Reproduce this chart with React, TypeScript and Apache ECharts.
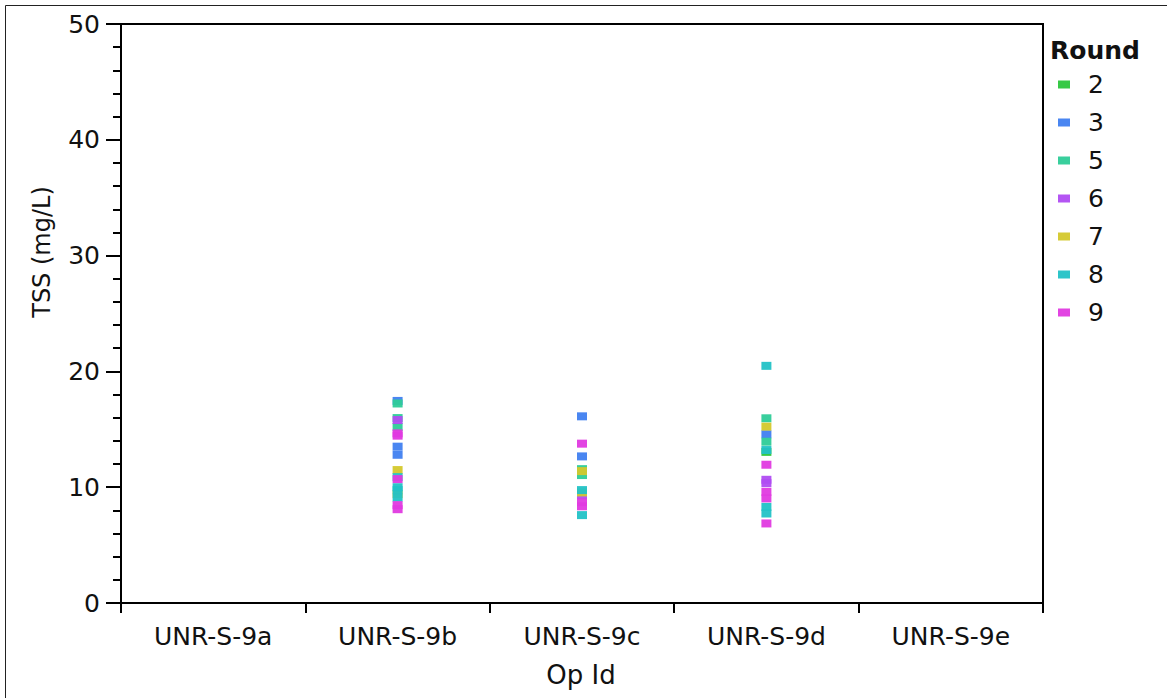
import React, { useEffect, useRef } from "react";
import * as echarts from "echarts";

const categories = ["UNR-S-9a", "UNR-S-9b", "UNR-S-9c", "UNR-S-9d", "UNR-S-9e"];
const yTicks = [0, 10, 20, 30, 40, 50];
const rounds = ["2", "3", "5", "6", "7", "8", "9"];
const roundColors = ["#2cc63c", "#4080f0", "#2ecc98", "#b04cf2", "#d4c82c", "#22c2c6", "#e03ae0"];

const round2: [string, number][] = [["UNR-S-9d", 13.05]];
const round3: [string, number][] = [
  ["UNR-S-9b", 17.45], ["UNR-S-9b", 13.5], ["UNR-S-9b", 12.8],
  ["UNR-S-9c", 16.12], ["UNR-S-9c", 12.66],
  ["UNR-S-9d", 14.57],
];
const round5: [string, number][] = [
  ["UNR-S-9b", 17.23], ["UNR-S-9b", 15.97], ["UNR-S-9b", 15.2],
  ["UNR-S-9c", 11.56], ["UNR-S-9c", 11.05],
  ["UNR-S-9d", 15.95], ["UNR-S-9d", 13.93],
];
const round6: [string, number][] = [
  ["UNR-S-9b", 15.8],
  ["UNR-S-9c", 9.3],
  ["UNR-S-9d", 10.64], ["UNR-S-9d", 10.35],
];
const round7: [string, number][] = [
  ["UNR-S-9b", 11.48], ["UNR-S-9b", 9.4],
  ["UNR-S-9c", 11.39], ["UNR-S-9c", 9.55],
  ["UNR-S-9d", 15.23],
];
const round8: [string, number][] = [
  ["UNR-S-9b", 10.87], ["UNR-S-9b", 10.0], ["UNR-S-9b", 9.75], ["UNR-S-9b", 9.1],
  ["UNR-S-9c", 9.75], ["UNR-S-9c", 7.59],
  ["UNR-S-9d", 20.48], ["UNR-S-9d", 13.21], ["UNR-S-9d", 8.3], ["UNR-S-9d", 7.73],
];
const round9: [string, number][] = [
  ["UNR-S-9b", 14.65], ["UNR-S-9b", 14.45], ["UNR-S-9b", 10.7], ["UNR-S-9b", 8.45], ["UNR-S-9b", 8.1],
  ["UNR-S-9c", 13.76], ["UNR-S-9c", 8.7], ["UNR-S-9c", 8.35],
  ["UNR-S-9d", 11.94], ["UNR-S-9d", 9.6], ["UNR-S-9d", 9.03], ["UNR-S-9d", 6.87],
];
const roundData = [round2, round3, round5, round6, round7, round8, round9];

const FONT = "DejaVu Sans";

export default function App() {
  const ref = useRef<HTMLDivElement>(null);
  useEffect(() => {
    if (!ref.current) return;
    const chart = echarts.init(ref.current, null, { renderer: "svg" });
    chart.setOption({
      animation: false,
      backgroundColor: "#ffffff",
      grid: {
        left: 121,
        top: 24,
        right: 124,
        bottom: 95,
        show: true,
        borderColor: "#000",
        borderWidth: 2,
        backgroundColor: "transparent",
      },
      xAxis: {
        type: "category",
        data: categories,
        boundaryGap: true,
        axisLine: { lineStyle: { color: "#000", width: 2 } },
        axisTick: { show: true, interval: 0, length: 10, lineStyle: { color: "#000", width: 2 } },
        axisLabel: { interval: 0, fontSize: 25, color: "#111", margin: 21, fontFamily: FONT },
        splitLine: { show: false },
      },
      yAxis: {
        type: "value",
        min: yTicks[0],
        max: yTicks[yTicks.length - 1],
        interval: 10,
        axisLine: { show: true, lineStyle: { color: "#000", width: 2 } },
        axisTick: { show: true, length: 15, lineStyle: { color: "#000", width: 2 } },
        minorTick: { show: true, splitNumber: 5, length: 8, lineStyle: { color: "#000", width: 2 } },
        axisLabel: { fontSize: 25, color: "#111", margin: 21, fontFamily: FONT },
        splitLine: { show: false },
      },
      legend: {
        orient: "vertical",
        left: 1058,
        top: 72,
        padding: 0,
        itemWidth: 12,
        itemHeight: 8,
        itemGap: 13,
        icon: "rect",
        data: rounds,
        textStyle: { fontSize: 25, lineHeight: 25, color: "#111", fontFamily: FONT, padding: [0, 0, 0, 13] },
      },
      graphic: [
        {
          type: "rect",
          shape: { x: 5.5, y: 5.5, width: 1300, height: 900 },
          style: { fill: "none", stroke: "#222", lineWidth: 1 },
          silent: true,
          z: 0,
        },
        {
          type: "text",
          x: 1050,
          y: 50,
          style: {
            text: "Round",
            fontSize: 25,
            fontWeight: "bold",
            fill: "#111",
            fontFamily: FONT,
            verticalAlign: "middle",
          },
        },
        {
          type: "text",
          x: 42,
          y: 252,
          rotation: Math.PI / 2,
          style: {
            text: "TSS (mg/L)",
            fontSize: 24,
            fill: "#111",
            fontFamily: FONT,
            align: "center",
            verticalAlign: "middle",
          },
        },
        {
          type: "text",
          x: 581,
          y: 675,
          style: {
            text: "Op Id",
            fontSize: 26,
            fill: "#111",
            fontFamily: FONT,
            align: "center",
            verticalAlign: "middle",
          },
        },
      ],
      series: rounds.map((r, i) => ({
        name: r,
        type: "scatter",
        data: roundData[i],
        symbol: "rect",
        symbolSize: [10, 8],
        itemStyle: { color: roundColors[i], opacity: 0.95 },
        emphasis: { disabled: true },
      })),
    });
    return () => chart.dispose();
  }, []);
  return (
    <div
      ref={ref}
      style={{ position: "fixed", left: 0, top: 0, width: 1167, height: 698, background: "#fff" }}
    />
  );
}
